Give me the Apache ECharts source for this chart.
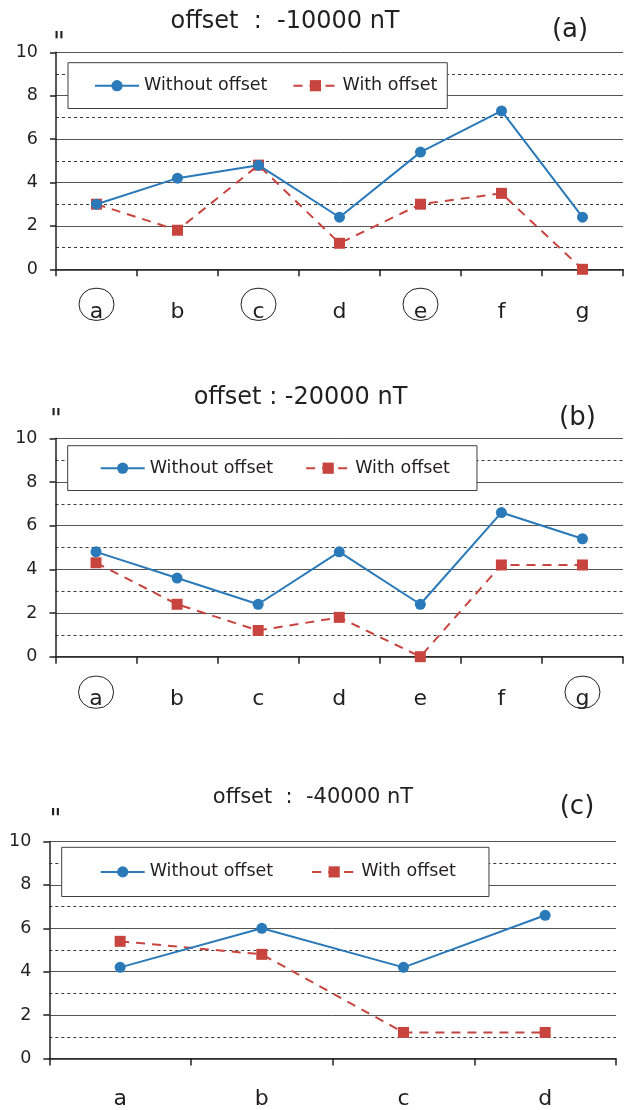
<!DOCTYPE html>
<html>
<head>
<meta charset="utf-8">
<script src="https://cdn.jsdelivr.net/npm/echarts@6/dist/echarts.min.js"></script>
<style>
html,body{margin:0;padding:0;background:#fff;}
#chart{width:624px;height:1110px;}
</style>
</head>
<body>
<div id="chart"></div>
<script>
// ---- data ----
const categoriesA = ['a', 'b', 'c', 'd', 'e', 'f', 'g'];
const circledA = ['a', 'c', 'e'];
const withoutOffsetA = [3.0, 4.2, 4.8, 2.4, 5.4, 7.3, 2.4];
const withOffsetA = [3.0, 1.8, 4.8, 1.2, 3.0, 3.5, 0.0];

const categoriesB = ['a', 'b', 'c', 'd', 'e', 'f', 'g'];
const circledB = ['a', 'g'];
const withoutOffsetB = [4.8, 3.6, 2.4, 4.8, 2.4, 6.6, 5.4];
const withOffsetB = [4.3, 2.4, 1.2, 1.8, 0.0, 4.2, 4.2];

const categoriesC = ['a', 'b', 'c', 'd'];
const circledC = [];
const withoutOffsetC = [4.2, 6.0, 4.2, 6.6];
const withOffsetC = [5.4, 4.8, 1.2, 1.2];

const seriesNames = ['Without offset', 'With offset'];
const panelTitles = ['offset  :  -10000 nT', 'offset : -20000 nT', 'offset  :  -40000 nT'];
const panelTags = ['(a)', '(b)', '(c)'];
const unitLabel = '"';
const yMin = 0, yMax = 10, yInterval = 2;

// ---- layout / style ----
const FONT = '"DejaVu Sans", sans-serif';
const INK = '#231f20';
const BLUE = '#2a79b8';
const RED = '#c8453f';

const grids = [
  {left: 56, top: 52.3, width: 567, height: 217},
  {left: 55.5, top: 438.3, width: 567.5, height: 218.4},
  {left: 49.3, top: 841.5, width: 566.7, height: 218.3}
];
const legendPos = [
  {left: 68, top: 62.7, padding: [14, 10, 13.8, 26], itemGap: 25},
  {left: 67.7, top: 445.7, padding: [13.5, 27, 13.3, 32], itemGap: 32},
  {left: 61.7, top: 847.3, padding: [15.6, 33, 15.6, 38], itemGap: 38}
];
const titlePos = [
  {x: 285, y: 22, size: 24},
  {x: 300.5, y: 398, size: 24},
  {x: 313, y: 798, size: 21}
];
const tagPos = [{x: 570, y: 30.5}, {x: 577.5, y: 418.5}, {x: 577, y: 807.5}];
const unitPos = [{x: 59, y: 44}, {x: 56, y: 421.5}, {x: 55.5, y: 821}];
const labelMargins = [35, 35.5, 33];

const panels = [
  {cats: categoriesA, circled: circledA, w: withoutOffsetA, o: withOffsetA},
  {cats: categoriesB, circled: circledB, w: withoutOffsetB, o: withOffsetB},
  {cats: categoriesC, circled: circledC, w: withoutOffsetC, o: withOffsetC}
];

const xAxes = [], yAxes = [], series = [], legends = [], graphics = [];

panels.forEach((p, i) => {
  xAxes.push({
    type: 'category',
    gridIndex: i,
    data: p.cats,
    boundaryGap: true,
    axisLine: {show: true, lineStyle: {color: INK, width: 1.5}},
    axisTick: {show: true, length: 7, inside: false, lineStyle: {color: INK, width: 1.5}},
    splitLine: {show: false},
    axisLabel: {
      margin: labelMargins[i],
      verticalAlign: 'middle',
      interval: 0,
      formatter: (v) => (p.circled.indexOf(v) >= 0 ? '{c|' + v + '}' : '{n|' + v + '}'),
      rich: {
        c: {
          fontSize: 22, fontFamily: FONT, color: INK,
          width: 35, height: 17, padding: [15, 0, 0, 0], align: 'center',
          borderColor: INK, borderWidth: 1, borderRadius: 17
        },
        n: {
          fontSize: 22, fontFamily: FONT, color: INK,
          width: 35, height: 17, padding: [15, 0, 0, 0], align: 'center'
        }
      }
    }
  });
  yAxes.push({
    type: 'value',
    gridIndex: i,
    min: yMin, max: yMax, interval: yInterval,
    axisLine: {show: true, lineStyle: {color: INK, width: 1.5}},
    axisTick: {show: true, length: 6, lineStyle: {color: INK, width: 1.5}},
    axisLabel: {fontSize: 17.5, fontFamily: FONT, color: INK, margin: 18},
    splitLine: {show: true, lineStyle: {color: '#555555', width: 1, type: 'solid'}},
    minorTick: {show: false, splitNumber: 2},
    minorSplitLine: {show: true, lineStyle: {color: '#3a3a3a', width: 1, type: [3, 3]}}
  });
  series.push({
    name: seriesNames[0], type: 'line', xAxisIndex: i, yAxisIndex: i,
    data: p.w, symbol: 'circle', symbolSize: 11,
    lineStyle: {color: BLUE, width: 2},
    itemStyle: {color: BLUE},
    emphasis: {disabled: true}, z: 3
  });
  series.push({
    name: seriesNames[1], type: 'line', xAxisIndex: i, yAxisIndex: i,
    data: p.o, symbol: 'rect', symbolSize: 11,
    lineStyle: {color: RED, width: 2, type: [9, 7]},
    itemStyle: {color: RED},
    emphasis: {disabled: true}, z: 2
  });
  const lp = legendPos[i];
  legends.push({
    data: seriesNames,
    left: lp.left, top: lp.top, padding: lp.padding, itemGap: lp.itemGap,
    orient: 'horizontal',
    itemWidth: 44, itemHeight: 14,
    backgroundColor: '#ffffff', borderColor: '#3f3f3f', borderWidth: 1,
    selectedMode: false,
    textStyle: {fontSize: 17.5, fontFamily: FONT, color: INK},
    z: 10
  });
  graphics.push({
    type: 'text', x: titlePos[i].x, y: titlePos[i].y,
    style: {text: panelTitles[i], fontSize: titlePos[i].size, fontFamily: FONT, fill: INK, align: 'center', verticalAlign: 'middle'}
  });
  graphics.push({
    type: 'text', x: tagPos[i].x, y: tagPos[i].y,
    style: {text: panelTags[i], fontSize: 26, fontFamily: FONT, fill: INK, align: 'center', verticalAlign: 'middle'}
  });
  graphics.push({
    type: 'text', x: unitPos[i].x, y: unitPos[i].y,
    style: {text: unitLabel, fontSize: 26, fontFamily: FONT, fill: INK, align: 'center', verticalAlign: 'middle'}
  });
});

const chart = echarts.init(document.getElementById('chart'), null, {renderer: 'canvas'});
chart.setOption({
  animation: false,
  backgroundColor: '#ffffff',
  grid: grids.map(g => Object.assign({containLabel: false}, g)),
  xAxis: xAxes,
  yAxis: yAxes,
  legend: legends,
  series: series,
  graphic: graphics
});
</script>
</body>
</html>
